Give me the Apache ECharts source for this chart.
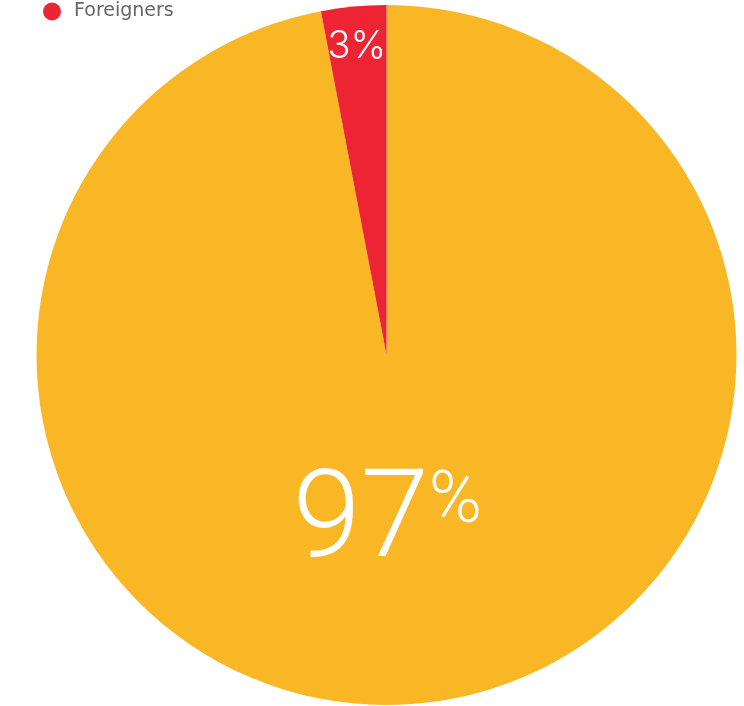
<!DOCTYPE html>
<html>
<head>
<meta charset="utf-8">
<script src="https://cdn.jsdelivr.net/npm/echarts@6/dist/echarts.min.js"></script>
<style>
  html, body { margin: 0; padding: 0; background: #fff; }
  #chart { width: 744px; height: 706px; }
</style>
</head>
<body>
<div id="chart"></div>
<script>
// Share of population by origin (percent)
const categories = ['Locals', 'Foreigners'];
const shares = [97, 3];
const colors = ['#F9B625', '#EC2434'];

const chart = echarts.init(document.getElementById('chart'), null, { renderer: 'canvas' });

const numFont = 'Roboto';

// Per-slice label placement and styling
const labelStyles = [
  {
    offset: [-16, -7],
    formatter: p => '{big|' + p.value + '}{sup|%}',
    rich: {
      big: { fontSize: 123, fontFamily: numFont, fontWeight: 300, color: '#fff', lineHeight: 130 },
      sup: { fontSize: 72, fontFamily: numFont, fontWeight: 300, color: '#fff', verticalAlign: 'top', lineHeight: 130, padding: [8, 0, 0, 0] }
    }
  },
  {
    offset: [-13, -131],
    formatter: p => p.value + '%',
    fontSize: 38,
    fontFamily: 'Inter',
    fontWeight: 300,
    color: '#fff'
  }
];

const data = categories.map((name, i) => ({
  name,
  value: shares[i],
  itemStyle: { color: colors[i] },
  label: Object.assign({ show: true, position: 'inside' }, labelStyles[i])
}));

chart.setOption({
  animation: false,
  legend: {
    data: ['Foreigners'],
    left: 43,
    top: 2,
    padding: 0,
    icon: 'circle',
    itemWidth: 34,
    itemHeight: 18,
    itemGap: 8,
    textStyle: { fontSize: 19, color: '#666', fontFamily: 'DejaVu Sans' }
  },
  series: [{
    type: 'pie',
    center: [386.5, 355],
    radius: 350,
    startAngle: 90,
    clockwise: true,
    label: { show: true },
    labelLine: { show: false },
    emphasis: { disabled: true },
    data
  }]
});
</script>
</body>
</html>
